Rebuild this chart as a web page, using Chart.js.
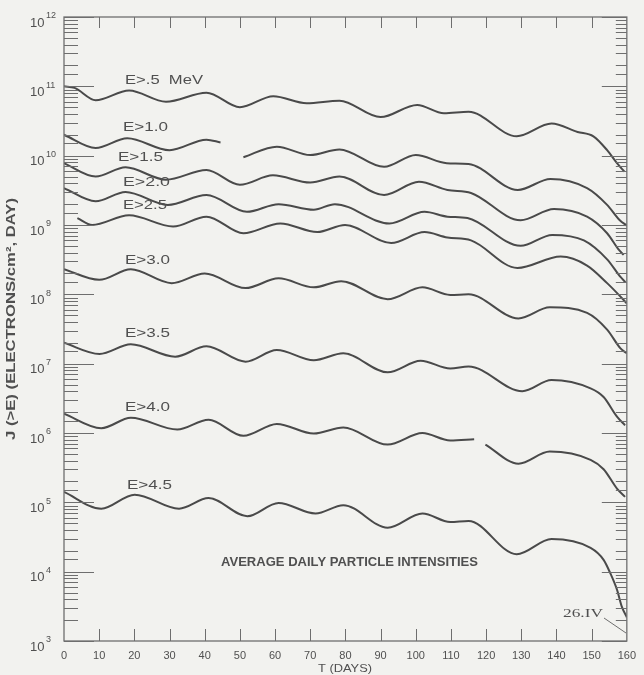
<!DOCTYPE html>
<html>
<head>
<meta charset="utf-8">
<script src="https://cdn.jsdelivr.net/npm/chart.js@4/dist/chart.umd.min.js"></script>
<style>
  html, body { margin: 0; padding: 0; background: #f2f2ef; }
  canvas { display: block; }
</style>
</head>
<body>
<canvas id="graphique-flux" width="644" height="675"></canvas>
<script>
// Average daily particle intensities, integral flux J(>E) against time (days)
const seriesNames = ["E>.5  MeV", "E>1.0", "E>1.5", "E>2.0", "E>2.5", "E>3.0", "E>3.5", "E>4.0", "E>4.5"];

const daysE05 = [0, 3, 9, 18.5, 29, 40.5, 50, 59.5, 69, 78.3, 90, 100.4, 108, 115, 128.7, 138.6, 146, 150.5, 154.4, 157.2, 159.3];
const fluxE05 = [1.0e11, 9.5e10, 6.3e10, 8.7e10, 6.0e10, 8.1e10, 5.0e10, 7.2e10, 5.7e10, 6.2e10, 3.6e10, 5.4e10, 4.1e10, 4.3e10, 1.9e10, 2.9e10, 2.2e10, 1.9e10, 1.2e10, 7.8e9, 5.9e9];

const daysE10 = [0, 9, 18, 30, 40.5, 44.5, 47.5, 51, 60.5, 70, 78.3, 91, 100, 108.8, 115, 129, 138.3, 148.7, 154.4, 158, 160];
const fluxE10 = [2.0e10, 1.29e10, 1.78e10, 1.2e10, 1.7e10, 1.55e10, null, 9.5e9, 1.35e10, 1.02e10, 1.23e10, 6.9e9, 1.02e10, 7.8e9, 7.6e9, 3.2e9, 4.6e9, 3.4e9, 1.95e9, 1.17e9, 9.8e8];

const daysE15 = [0, 9, 17.5, 29, 40.5, 50, 59.4, 70, 78.3, 91, 100.9, 109, 115.7, 129.8, 139.3, 148.7, 154.4, 157.7, 159.1];
const fluxE15 = [7.8e9, 5.0e9, 6.8e9, 4.5e9, 6.2e9, 3.8e9, 5.2e9, 4.1e9, 5.0e9, 2.7e9, 4.2e9, 3.2e9, 2.9e9, 1.17e9, 1.7e9, 1.32e9, 7.6e8, 4.4e8, 3.7e8];

const daysE20 = [0, 9, 17.5, 29.5, 40.5, 52, 61, 71, 77, 92.5, 102.5, 109, 114.7, 129.8, 138.8, 147.8, 154.4, 158.2, 159.6];
const fluxE20 = [3.4e9, 2.2e9, 3.0e9, 1.95e9, 2.7e9, 1.55e9, 2.0e9, 1.66e9, 2.0e9, 1.05e9, 1.55e9, 1.32e9, 1.26e9, 5.0e8, 7.2e8, 6.0e8, 3.2e8, 1.78e8, 1.5e8];

const daysE25 = [3.8, 8, 18.5, 31, 40.5, 51, 61.5, 72, 79.9, 93, 102.5, 109, 115.7, 128.9, 141.2, 148.7, 154.4, 159.1, 160];
const fluxE25 = [1.26e9, 1.0e9, 1.38e9, 9.5e8, 1.32e9, 7.6e8, 1.05e9, 7.9e8, 1.0e9, 5.5e8, 7.9e8, 6.6e8, 6.0e8, 2.4e8, 3.5e8, 2.6e8, 1.45e8, 8.3e7, 7.4e7];

const daysE30 = [0, 10, 19, 30.6, 40, 51.6, 61, 71, 78.8, 92, 101.9, 109.8, 115, 129.2, 138.1, 148.7, 154.4, 158.2, 160];
const fluxE30 = [2.3e8, 1.62e8, 2.3e8, 1.45e8, 2.0e8, 1.23e8, 1.7e8, 1.26e8, 1.55e8, 8.5e7, 1.26e8, 9.8e7, 1.0e8, 4.5e7, 6.5e7, 5.4e7, 3.1e7, 1.66e7, 1.41e7];

const daysE35 = [0, 10.1, 19, 31.6, 40.5, 51.6, 60.5, 71, 79.4, 92, 101.4, 109.8, 115, 130.3, 138.6, 149.7, 153.4, 157.2, 159.5];
const fluxE35 = [2.0e7, 1.38e7, 1.9e7, 1.26e7, 1.78e7, 1.07e7, 1.58e7, 1.12e7, 1.41e7, 7.5e6, 1.1e7, 8.5e6, 9.1e6, 4.0e6, 5.8e6, 4.4e6, 3.3e6, 1.72e6, 1.29e6];

const daysE40 = [0, 10.6, 19, 32.2, 41.1, 51, 60.5, 71, 79.4, 92, 101.9, 109.8, 116.6, 118.2, 119.8, 129.2, 138.1, 149.7, 153.4, 157.2, 159.5];
const fluxE40 = [1.9e6, 1.17e6, 1.66e6, 1.12e6, 1.55e6, 9.1e5, 1.35e6, 9.8e5, 1.2e6, 6.8e5, 1.0e6, 7.8e5, 8.1e5, null, 6.8e5, 3.6e5, 5.4e5, 4.1e5, 3.0e5, 1.58e5, 1.2e5];

const daysE45 = [0, 10.6, 20.1, 32.7, 41.1, 52.1, 61, 71.5, 79.4, 92, 101.9, 109.8, 115, 128.7, 138.6, 149.7, 153.4, 155.3, 157.2, 158.6, 160];
const fluxE45 = [1.41e5, 8.1e4, 1.29e5, 8.1e4, 1.15e5, 6.3e4, 9.8e4, 6.9e4, 9.1e4, 4.3e4, 6.9e4, 5.2e4, 5.4e4, 1.78e4, 2.95e4, 2.2e4, 1.48e4, 9.5e3, 5.5e3, 3.1e3, 2.2e3];

// tick labels of the flux axis: base and exponent for each decade 10^3 ... 10^12
const yTickBase = "10";
const yTickExponents = ["3", "4", "5", "6", "7", "8", "9", "10", "11", "12"];

const allDays = [daysE05, daysE10, daysE15, daysE20, daysE25, daysE30, daysE35, daysE40, daysE45];
const allFlux = [fluxE05, fluxE10, fluxE15, fluxE20, fluxE25, fluxE30, fluxE35, fluxE40, fluxE45];

const inkColor = "#4a4a4a";
const textColor = "#505050";

function isDecade(v) {
  const e = Math.log10(v);
  return Math.abs(e - Math.round(e)) < 1e-6;
}

// draws a text squeezed or stretched to a given width
function fitText(ctx, str, x, y, w, font) {
  ctx.save();
  ctx.font = font;
  const m = ctx.measureText(str).width;
  ctx.translate(x, y);
  ctx.scale(w / m, 1);
  ctx.textAlign = "left";
  ctx.textBaseline = "middle";
  ctx.fillText(str, 0, 0);
  ctx.restore();
}

// position of each curve label (left, middle, width in px)
const labelPlaces = [
  [125, 80, 78], [123, 127, 45], [118, 157, 45], [123, 182, 47], [123, 205, 44],
  [125, 260, 45], [125, 333, 45], [125, 407, 45], [127, 485, 45]
];

const cadreEtNotes = {
  id: "cadreEtNotes",
  beforeDraw(chart) {
    const ctx = chart.ctx;
    ctx.save();
    ctx.fillStyle = "#f2f2ef";
    ctx.fillRect(0, 0, chart.width, chart.height);
    ctx.restore();
  },
  afterDraw(chart) {
    const { ctx, chartArea: a, scales: { x, y } } = chart;
    ctx.save();
    ctx.strokeStyle = "#6e6e6e";
    ctx.lineWidth = 1.3;
    ctx.strokeRect(a.left, a.top, a.right - a.left, a.bottom - a.top);

    // inward tick marks on the four sides
    ctx.lineWidth = 1;
    ctx.beginPath();
    for (const t of y.ticks) {
      const py = Math.round(y.getPixelForValue(t.value)) + 0.5;
      const major = isDecade(t.value);
      ctx.moveTo(a.left, py);
      ctx.lineTo(a.left + (major ? 30 : 14), py);
      ctx.moveTo(a.right, py);
      ctx.lineTo(a.right - (major ? 25 : 11), py);
    }
    for (const t of x.ticks) {
      if (t.value <= x.min || t.value >= x.max) continue;
      const px = Math.round(x.getPixelForValue(t.value)) + 0.5;
      ctx.moveTo(px, a.top);
      ctx.lineTo(px, a.top + 11);
      ctx.moveTo(px, a.bottom);
      ctx.lineTo(px, a.bottom - 12);
    }
    ctx.stroke();

    // decade labels 10^n with a raised exponent
    ctx.fillStyle = textColor;
    ctx.textAlign = "left";
    ctx.textBaseline = "middle";
    for (const t of y.ticks) {
      if (!isDecade(t.value)) continue;
      const py = y.getPixelForValue(t.value);
      const exp = yTickExponents[Math.round(Math.log10(t.value)) - 3];
      ctx.font = "13px 'Liberation Sans', Arial, sans-serif";
      ctx.fillText(yTickBase, 30, py + 6);
      const w = ctx.measureText(yTickBase).width;
      ctx.font = "9px 'Liberation Sans', Arial, sans-serif";
      ctx.fillText(exp, 30 + w + 1.5, py - 1);
    }

    // curve labels
    for (let i = 0; i < seriesNames.length; i++) {
      const p = labelPlaces[i];
      fitText(ctx, seriesNames[i], p[0], p[1], p[2], "13px 'Liberation Sans', Arial, sans-serif");
    }

    fitText(ctx, "AVERAGE DAILY PARTICLE INTENSITIES", 221, 563, 257, "bold 12px 'Liberation Sans', Arial, sans-serif");
    fitText(ctx, "26.IV", 563, 614, 40, "13px 'Liberation Serif', serif");
    ctx.beginPath();
    ctx.moveTo(604, 618);
    ctx.lineTo(626, 633);
    ctx.stroke();

    // axis titles
    fitText(ctx, "T (DAYS)", 318, 669, 54, "11px 'Liberation Sans', Arial, sans-serif");
    ctx.save();
    ctx.translate(12, 440);
    ctx.rotate(-Math.PI / 2);
    fitText(ctx, "J (>E) (ELECTRONS/cm², DAY)", 0, 0, 242, "bold 12px 'Liberation Sans', Arial, sans-serif");
    ctx.restore();
    ctx.restore();
  }
};

const datasets = allFlux.map((flux, i) => ({
  label: seriesNames[i],
  data: flux.map((v, j) => ({ x: allDays[i][j], y: v })),
  borderColor: inkColor,
  borderWidth: 2,
  pointRadius: 0,
  fill: false,
  spanGaps: false,
  cubicInterpolationMode: "monotone"
}));

Chart.defaults.font.family = "'Liberation Sans', Arial, sans-serif";

new Chart(document.querySelector("#graphique-flux"), {
  type: "line",
  data: { datasets: datasets },
  options: {
    responsive: false,
    animation: false,
    devicePixelRatio: 1,
    layout: { padding: { left: 30, right: 14, top: 17, bottom: 0 } },
    plugins: { legend: { display: false }, tooltip: { enabled: false } },
    scales: {
      x: {
        type: "linear",
        min: 0,
        max: 160,
        afterFit: (s) => { s.height = 34; },
        grid: { display: false, drawTicks: false },
        border: { display: false },
        ticks: { stepSize: 10, autoSkip: false, maxRotation: 0, padding: 8, color: textColor, font: { size: 11 } }
      },
      y: {
        type: "logarithmic",
        min: 1e3,
        max: 1e12,
        afterFit: (s) => { s.width = 34; },
        grid: { display: false, drawTicks: false },
        border: { display: false },
        ticks: { display: false, autoSkip: false }
      }
    }
  },
  plugins: [cadreEtNotes]
});
</script>
</body>
</html>
